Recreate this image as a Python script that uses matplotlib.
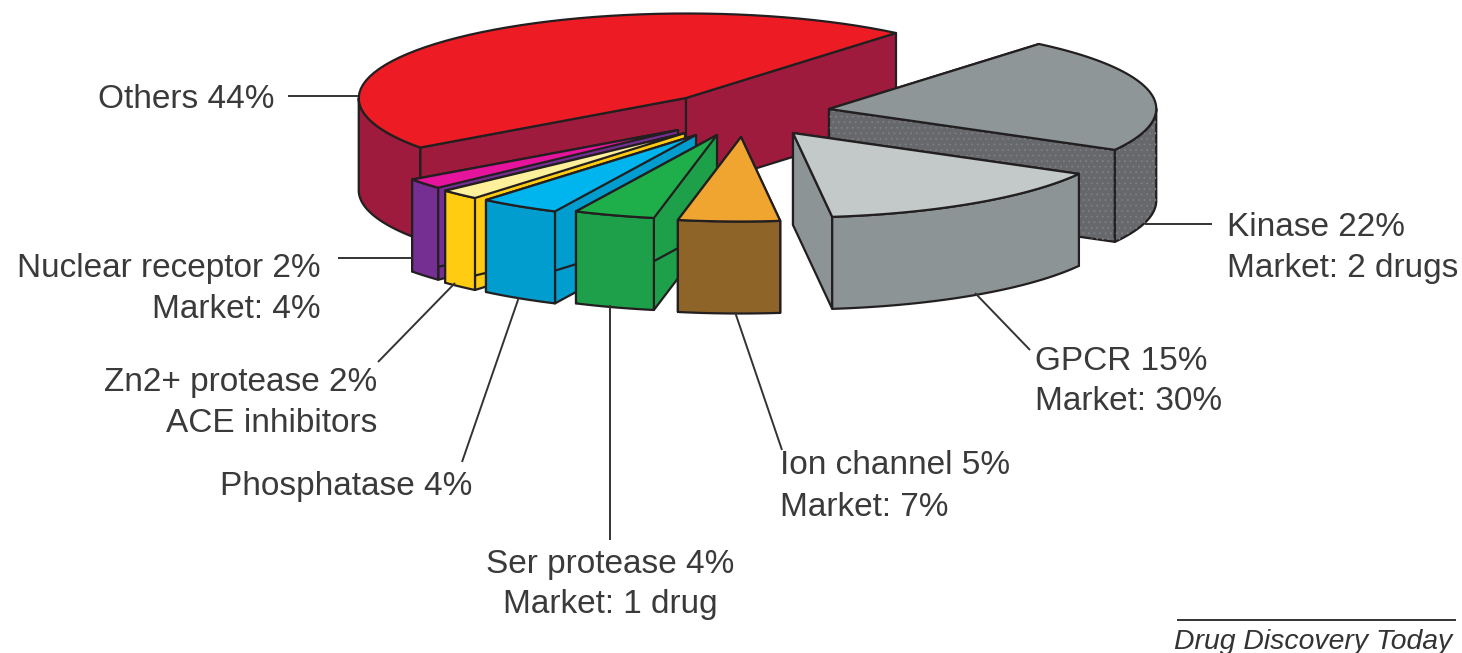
"""
Exploded 3D pie of drug target families, drawn as stacked polygons.
"""
import matplotlib as mpl
import matplotlib.pyplot as plt
from matplotlib.patches import Polygon
import numpy as np

# Data
CATEGORIES = ["Kinase", "GPCR", "Ion channel", "Ser protease", "Phosphatase",
              "Zn2+ protease", "Nuclear receptor", "Others"]
SHARES = [22, 15, 5, 4, 4, 2, 2, 44]
SECOND_LINES = ["Market: 2 drugs", "Market: 30%", "Market: 7%", "Market: 1 drug", "",
                "ACE inhibitors", "Market: 4%", ""]
SOURCE = "Drug Discovery Today"

# Look of each slice, same order as CATEGORIES
TOP_COLORS = ["#8E9698", "#C3C9C8", "#F0A530", "#1FAF4A", "#00B4EE",
              "#FFF09C", "#E6149C", "#ED1C24"]
SIDE_COLORS = ["#66686C", "#8C9496", "#8F6428", "#1EA04A", "#009DCE",
               "#FFCC11", "#752E91", "#9E1B3E"]
APEX = [(829, 109), (793, 133), (741, 137), (717, 135), (696, 135),
        (685, 133), (678, 130), (686, 98)]
DRAW_ORDER = [7, 0, 1, 6, 5, 4, 3, 2]

# Projection of the unit circle onto the page, in pixels
U = np.array([210, -65])
V = np.array([251, 54])
DEPTH = 92
EDGE = "#231F20"
INK = "#3A3A3A"
# outer wall faces the viewer between the two horizontal extremes of the ellipse
FRONT = np.degrees(np.arctan2(V[0], U[0]))

# anchor x, y, align of the label; leader start and end
LABEL_POS = [
    (1227, 227, "left", (1145, 224), (1212, 224)),
    (1035, 361, "left", (975, 293), (1030, 350)),
    (780, 466, "left", (735, 312), (782, 450)),
    (610, 564, "center", (610, 305), (610, 540)),
    (472, 487, "right", (519, 297), (462, 462)),
    (377, 383, "right", (455, 283), (378, 362)),
    (321, 268, "right", (338, 258), (412, 258)),
    (275, 99, "right", (288, 96), (358, 96)),
]

mpl.rcParams.update({
    "font.family": ["Liberation Sans", "DejaVu Sans"],
    "font.size": 24,
    "hatch.linewidth": 0.6,
})


def _arc(apex, start, stop):
    t = np.radians(np.linspace(start, stop, 60))
    return np.array(apex) + np.outer(np.cos(t), U) + np.outer(np.sin(t), V)


def _poly(ax, pts, color, hatch=None):
    ax.add_patch(Polygon(pts, closed=True, facecolor=color, edgecolor=EDGE,
                         linewidth=1.6, joinstyle="round"))
    if hatch:
        ax.add_patch(Polygon(pts, closed=True, facecolor="none", edgecolor="#7E8082",
                             linewidth=0, hatch=hatch))


def draw_slice(ax, apex, start, stop, top, side, hatch=None):
    arc = _arc(apex, start, stop)
    apex = np.array(apex, dtype=float)
    down = np.array([0, DEPTH])
    for end in (arc[0], arc[-1]):
        _poly(ax, [apex, end, end + down, apex + down], side, hatch)
    wall_start, wall_stop = max(start, FRONT), min(stop, FRONT + 180)
    if wall_stop > wall_start:
        wall = _arc(apex, wall_start, wall_stop)
        _poly(ax, np.vstack([wall, (wall + down)[::-1]]), side, hatch)
    _poly(ax, np.vstack([apex, arc]), top)


def main():
    fig = plt.figure(figsize=(14.62, 6.53), dpi=100)
    ax = fig.add_axes([0, 0, 1, 1])
    ax.set_xlim(0, 1462)
    ax.set_ylim(653, 0)
    ax.axis("off")

    stops = np.cumsum([0] + SHARES[:-1]) * 3.6
    starts = list(stops[:-1])
    ends = list(stops[1:])
    starts.append(stops[-1])
    ends.append(360)

    for i in DRAW_ORDER:
        hatch = "..." if CATEGORIES[i] == "Kinase" else None
        draw_slice(ax, APEX[i], starts[i], ends[i], TOP_COLORS[i], SIDE_COLORS[i], hatch)

    for name, share, second, (x, y, align, p0, p1) in zip(CATEGORIES, SHARES, SECOND_LINES, LABEL_POS):
        ax.plot([p0[0], p1[0]], [p0[1], p1[1]], color="#333333", lw=1.4, solid_capstyle="butt")
        ax.text(x, y, f"{name} {share}%", ha=align, va="center", color=INK)
        if second:
            ax.text(x, y + 41, second, ha=align, va="center", color=INK)

    ax.plot([1178, 1455], [620, 620], color="#333333", lw=1.4)
    ax.text(1452, 642, SOURCE, ha="right", va="center", fontsize=20.4, style="italic", color="#333333")

    fig.savefig("out.png", dpi=100)
    plt.close(fig)


if __name__ == "__main__":
    main()
